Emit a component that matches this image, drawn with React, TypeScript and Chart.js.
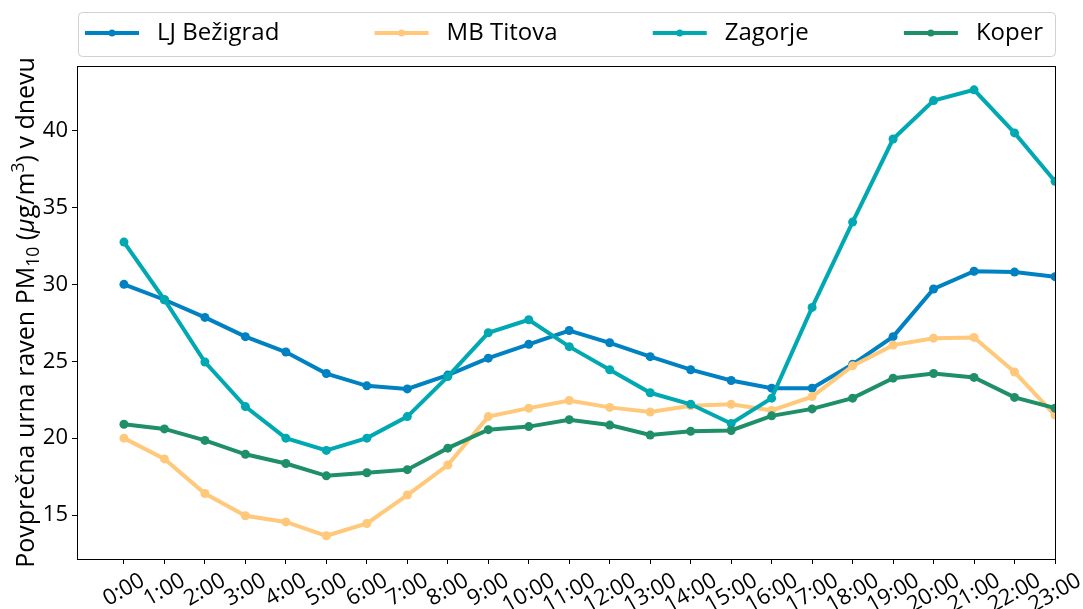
import React, { useEffect, useRef } from 'react';
import { Chart, registerables } from 'chart.js';

Chart.register(...registerables);

const hours = ['0:00','1:00','2:00','3:00','4:00','5:00','6:00','7:00','8:00','9:00','10:00','11:00','12:00','13:00','14:00','15:00','16:00','17:00','18:00','19:00','20:00','21:00','22:00','23:00'];

const ljBezigrad = [30.0, 29.0, 27.85, 26.6, 25.6, 24.2, 23.4, 23.2, 24.1, 25.2, 26.1, 27.0, 26.2, 25.3, 24.45, 23.75, 23.25, 23.25, 24.8, 26.6, 29.7, 30.85, 30.8, 30.5];
const mbTitova = [20.0, 18.65, 16.4, 14.95, 14.55, 13.65, 14.45, 16.3, 18.25, 21.4, 21.95, 22.45, 22.0, 21.7, 22.1, 22.2, 21.8, 22.7, 24.7, 26.05, 26.5, 26.55, 24.3, 21.5];
const zagorje = [32.75, 29.0, 24.95, 22.05, 20.0, 19.2, 20.0, 21.4, 24.0, 26.85, 27.7, 25.95, 24.45, 22.95, 22.2, 20.95, 22.6, 28.5, 34.05, 39.45, 41.95, 42.65, 39.85, 36.7];
const koper = [20.9, 20.6, 19.85, 18.95, 18.35, 17.55, 17.75, 17.95, 19.35, 20.55, 20.75, 21.2, 20.85, 20.2, 20.45, 20.5, 21.45, 21.9, 22.6, 23.9, 24.2, 23.95, 22.65, 21.95];

const seriesNames = ['LJ Bežigrad', 'MB Titova', 'Zagorje', 'Koper'];
const seriesValues = [ljBezigrad, mbTitova, zagorje, koper];
const seriesColors = ['#0081c1', '#ffc87b', '#00a9b1', '#1f8f69'];

const yTicks = [15, 20, 25, 30, 35, 40];

const yTitleParts = [
  { t: 'Povprečna urna raven PM', sub: 0, italic: false },
  { t: '10', sub: 1, italic: false },
  { t: ' (', sub: 0, italic: false },
  { t: 'μ', sub: 0, italic: true },
  { t: 'g/m', sub: 0, italic: false },
  { t: '3', sub: -1, italic: false },
  { t: ') v dnevu', sub: 0, italic: false },
];

const FONT = '"Open Sans", sans-serif';

const framePlugin = {
  id: 'frame',
  afterDatasetsDraw(chart: any) {
    const { ctx, chartArea: a } = chart;
    ctx.save();
    ctx.strokeStyle = '#000';
    ctx.lineWidth = 1;
    ctx.strokeRect(a.left + 0.5, a.top + 0.5, a.right - a.left, a.bottom - a.top);
    ctx.restore();
  },
};

const xLabelsPlugin = {
  id: 'xLabels',
  afterDraw(chart: any) {
    const { ctx, chartArea: a } = chart;
    const xs = chart.scales.x;
    const size = 22;
    const ang = Math.PI / 6;
    ctx.save();
    ctx.font = `${size}px ${FONT}`;
    ctx.fillStyle = '#000';
    ctx.textAlign = 'center';
    ctx.textBaseline = 'middle';
    hours.forEach((lab, i) => {
      const px = xs.getPixelForValue(i);
      const w = ctx.measureText(lab).width;
      const h = size * 1.15;
      const bh = w * Math.sin(ang) + h * Math.cos(ang);
      const cy = a.bottom + 5 + 4 + bh / 2;
      ctx.save();
      ctx.translate(px, cy);
      ctx.rotate(-ang);
      ctx.fillText(lab, 0, 0);
      ctx.restore();
    });
    ctx.restore();
  },
};

const yTitlePlugin = {
  id: 'yTitle',
  afterDraw(chart: any) {
    const { ctx, chartArea: a } = chart;
    const big = 25;
    const small = 17.5;
    ctx.save();
    const fontOf = (p: any) => `${p.italic ? 'italic ' : ''}${p.sub ? small : big}px ${FONT}`;
    let total = 0;
    const widths = yTitleParts.map((p) => {
      ctx.font = fontOf(p);
      const w = ctx.measureText(p.t).width;
      total += w;
      return w;
    });
    ctx.translate(34, (a.top + a.bottom) / 2);
    ctx.rotate(-Math.PI / 2);
    ctx.fillStyle = '#000';
    ctx.textAlign = 'left';
    ctx.textBaseline = 'alphabetic';
    let x = -total / 2;
    yTitleParts.forEach((p, i) => {
      ctx.font = fontOf(p);
      const dy = p.sub === 1 ? 5 : p.sub === -1 ? -10 : 0;
      ctx.fillText(p.t, x, dy);
      x += widths[i];
    });
    ctx.restore();
  },
};

const legendPlugin = {
  id: 'customLegend',
  afterDraw(chart: any) {
    const { ctx } = chart;
    const boxL = 78.5, boxT = 12.5, boxR = 1055.5, boxB = 56.5;
    ctx.save();
    ctx.beginPath();
    (ctx as any).roundRect(boxL, boxT, boxR - boxL, boxB - boxT, 4);
    ctx.fillStyle = '#ffffff';
    ctx.fill();
    ctx.strokeStyle = '#d0d0d0';
    ctx.lineWidth = 1;
    ctx.stroke();
    ctx.font = `24px ${FONT}`;
    const lineW = 54;
    const textGap = 18;
    const startX = 85;
    const endX = 1043;
    const itemWs = seriesNames.map((n) => lineW + textGap + ctx.measureText(n).width);
    const sum = itemWs.reduce((s, v) => s + v, 0);
    const gap = (endX - startX - sum) / (seriesNames.length - 1);
    const cy = 33;
    let x = startX;
    seriesNames.forEach((n, i) => {
      ctx.strokeStyle = seriesColors[i];
      ctx.lineWidth = 4;
      ctx.beginPath();
      ctx.moveTo(x, cy);
      ctx.lineTo(x + lineW, cy);
      ctx.stroke();
      ctx.fillStyle = seriesColors[i];
      ctx.beginPath();
      ctx.arc(x + lineW / 2, cy, 3.5, 0, Math.PI * 2);
      ctx.fill();
      ctx.fillStyle = '#000';
      ctx.textAlign = 'left';
      ctx.textBaseline = 'middle';
      ctx.fillText(n, x + lineW + textGap, cy);
      x += itemWs[i] + gap;
    });
    ctx.restore();
  },
};

export default function App() {
  const ref = useRef<HTMLCanvasElement | null>(null);

  useEffect(() => {
    document.body.style.margin = '0';
    const canvas = ref.current;
    if (!canvas) return;
    const chart = new Chart(canvas, {
      type: 'line',
      data: {
        datasets: seriesNames.map((name, i) => ({
          label: name,
          data: seriesValues[i].map((v, j) => ({ x: j, y: v })),
          borderColor: seriesColors[i],
          backgroundColor: seriesColors[i],
          borderWidth: 4,
          pointRadius: 4.5,
          pointBorderWidth: 0,
          pointHoverRadius: 4.5,
          tension: 0,
          fill: false,
          clip: 0,
          order: seriesNames.length - 1 - i,
        })),
      },
      options: {
        responsive: false,
        animation: false,
        devicePixelRatio: 1,
        layout: { padding: { top: 66, right: 28, left: 0, bottom: 0 } },
        plugins: {
          legend: { display: false },
          tooltip: { enabled: false },
          title: { display: false },
        },
        scales: {
          x: {
            type: 'linear',
            min: -1.16,
            max: 23,
            afterBuildTicks: (scale: any) => {
              scale.ticks = hours.map((_, i) => ({ value: i }));
            },
            afterFit: (scale: any) => {
              scale.height = 50;
            },
            ticks: { display: false },
            grid: {
              display: true,
              drawOnChartArea: false,
              drawTicks: true,
              tickLength: 5,
              tickColor: '#000',
              color: '#000',
            },
            border: { display: false },
          },
          y: {
            type: 'linear',
            min: 12.14,
            max: 44.2,
            afterBuildTicks: (scale: any) => {
              scale.ticks = yTicks.map((v) => ({ value: v }));
            },
            afterFit: (scale: any) => {
              scale.width = 77;
            },
            ticks: {
              color: '#000',
              padding: 4,
              font: { family: FONT, size: 22 },
              callback: (v: any) => String(v),
            },
            grid: {
              display: true,
              drawOnChartArea: false,
              drawTicks: true,
              tickLength: 5,
              tickColor: '#000',
              color: '#000',
            },
            border: { display: false },
          },
        },
      },
      plugins: [framePlugin, xLabelsPlugin, yTitlePlugin, legendPlugin],
    } as any);
    let alive = true;
    if ((document as any).fonts && (document as any).fonts.load) {
      Promise.all([
        (document as any).fonts.load(`20px "Open Sans"`),
        (document as any).fonts.load(`italic 20px "Open Sans"`),
      ]).then(() => {
        if (alive) chart.update();
      }).catch(() => {});
    }
    return () => {
      alive = false;
      chart.destroy();
    };
  }, []);

  return (
    <div style={{ width: 1083, height: 609 }}>
      <canvas ref={ref} width={1083} height={609} style={{ display: 'block' }} />
    </div>
  );
}
